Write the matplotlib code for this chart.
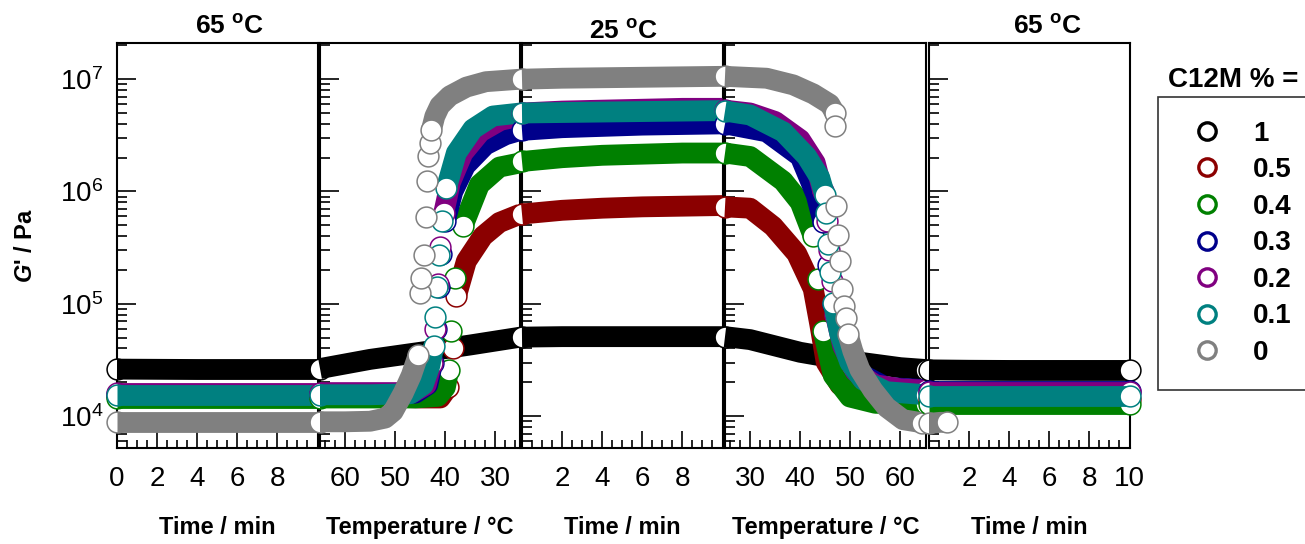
import numpy as np
import matplotlib
matplotlib.use('Agg')
import matplotlib.pyplot as plt
from matplotlib.lines import Line2D
from matplotlib.ticker import MultipleLocator, LogLocator, NullFormatter

plt.rcParams['font.family'] = ['Liberation Sans', 'DejaVu Sans']
plt.rcParams['mathtext.fontset'] = 'custom'
plt.rcParams['mathtext.rm'] = 'Liberation Sans'
plt.rcParams['mathtext.bf'] = 'Liberation Sans:bold'
plt.rcParams['mathtext.it'] = 'Liberation Sans:italic:bold'

# series: C12M content in %
labels = ['1', '0.5', '0.4', '0.3', '0.2', '0.1', '0']
colors = ['#000000', '#8b0000', '#008000', '#00008b', '#800080', '#008080', '#808080']

# 1) hold 10 min at 65 C
hold1_t = [0, 2, 4, 6, 8, 10]
hold1 = {
    '1':   [2.62e4, 2.61e4, 2.6e4, 2.6e4, 2.6e4, 2.6e4],
    '0.5': [1.5e4, 1.5e4, 1.5e4, 1.5e4, 1.5e4, 1.5e4],
    '0.4': [1.45e4, 1.45e4, 1.45e4, 1.45e4, 1.45e4, 1.45e4],
    '0.3': [1.58e4, 1.58e4, 1.58e4, 1.58e4, 1.58e4, 1.58e4],
    '0.2': [1.62e4, 1.62e4, 1.62e4, 1.62e4, 1.62e4, 1.62e4],
    '0.1': [1.55e4, 1.55e4, 1.55e4, 1.55e4, 1.55e4, 1.55e4],
    '0':   [8.9e3, 8.9e3, 8.9e3, 8.9e3, 8.9e3, 8.9e3],
}

# 2) cooling 65 -> 25 C  (temperature, G')
cool = {
    '1':   ([65, 55, 45, 35, 25],
            [2.65e4, 3.2e4, 3.7e4, 4.3e4, 5.05e4]),
    '0.5': ([65, 55, 45, 41, 39.5, 38.5, 37.8, 35.8, 32.5, 29.2, 25],
            [1.5e4, 1.5e4, 1.45e4, 1.45e4, 1.8e4, 4.0e4, 1.17e5, 2.4e5, 4.0e5, 5.3e5, 6.3e5]),
    '0.4': ([65, 55, 46, 41.5, 40, 39.3, 38.8, 38.1, 36.5, 33.2, 29.2, 25],
            [1.45e4, 1.45e4, 1.45e4, 1.5e4, 1.8e4, 2.6e4, 5.7e4, 1.7e5, 4.9e5, 1.15e6, 1.65e6, 1.8e6]),
    '0.3': ([65, 55, 46, 43.5, 42.5, 41.8, 41.3, 40.8, 40, 38.5, 36, 32, 28, 25],
            [1.58e4, 1.58e4, 1.6e4, 1.9e4, 3.0e4, 6e4, 1.4e5, 2.8e5, 5.5e5, 1.0e6, 1.7e6, 2.6e6, 3.2e6, 3.5e6]),
    '0.2': ([65, 55, 46.5, 43.8, 42.7, 42.0, 41.5, 41.0, 40.3, 39.0, 36.5, 33, 29, 25],
            [1.62e4, 1.62e4, 1.62e4, 1.9e4, 3.0e4, 6e4, 1.5e5, 3.2e5, 6.5e5, 1.2e6, 2.2e6, 3.4e6, 4.3e6, 4.7e6]),
    '0.1': ([65, 55, 47, 44.4, 43.1, 42.3, 42.0, 41.7, 41.3, 40.7, 39.8, 37.8, 34.5, 30.5, 25],
            [1.55e4, 1.55e4, 1.58e4, 1.9e4, 2.8e4, 4.2e4, 7.6e4, 1.4e5, 2.7e5, 5.5e5, 1.07e6, 2.2e6, 3.6e6, 4.7e6, 5.0e6]),
    '0':   ([65, 60, 55, 52, 50.4, 48.4, 46.8, 45.4, 45.1, 44.8, 44.3, 43.9, 43.6, 43.4, 43.1,
             42.8, 42.1, 41.1, 39.1, 35.8, 31.9, 25],
            [8.9e3, 8.9e3, 9.0e3, 9.6e3, 1.1e4, 1.6e4, 2.3e4, 3.5e4, 1.26e5, 1.68e5, 2.7e5, 5.9e5,
             1.24e6, 2.05e6, 2.7e6, 3.5e6, 4.66e6, 5.8e6, 7.1e6, 8.5e6, 9.5e6, 1.0e7]),
}

# 3) hold 10 min at 25 C
hold2_t = [0, 2, 4, 6, 8, 10]
hold2 = {
    '1':   [5.05e4, 5.1e4, 5.1e4, 5.1e4, 5.1e4, 5.1e4],
    '0.5': [6.3e5, 6.8e5, 7.1e5, 7.3e5, 7.4e5, 7.5e5],
    '0.4': [1.85e6, 2.0e6, 2.1e6, 2.15e6, 2.2e6, 2.2e6],
    '0.3': [3.5e6, 3.7e6, 3.8e6, 3.9e6, 3.95e6, 4.0e6],
    '0.2': [5.0e6, 5.2e6, 5.3e6, 5.4e6, 5.5e6, 5.5e6],
    '0.1': [5.0e6, 5.05e6, 5.1e6, 5.15e6, 5.2e6, 5.25e6],
    '0':   [1.0e7, 1.02e7, 1.03e7, 1.04e7, 1.05e7, 1.06e7],
}

# 4) heating 25 -> 65 C
heat = {
    '1':   ([25, 30, 40, 50, 60, 65],
            [5.1e4, 4.8e4, 3.7e4, 3.1e4, 2.7e4, 2.6e4]),
    '0.5': ([25, 30, 34.6, 39.3, 42.6, 43.9, 45.2, 47.9, 51.9, 54.5, 65],
            [7.3e5, 7.1e5, 4.9e5, 2.8e5, 1.36e5, 6.6e4, 3.0e4, 1.9e4, 1.46e4, 1.4e4, 1.4e4]),
    '0.4': ([25, 30, 36.6, 40, 42.6, 43.6, 44.6, 46.6, 49.9, 55, 65],
            [2.2e6, 2.05e6, 1.24e6, 8e5, 4e5, 1.67e5, 5.7e4, 2.3e4, 1.48e4, 1.3e4, 1.28e4]),
    '0.3': ([25, 33.3, 40, 43.2, 44.6, 45.6, 46.6, 49.2, 51.9, 57.2, 65],
            [4.0e6, 3.4e6, 2.05e6, 9.3e5, 5.3e5, 2.2e5, 1.0e5, 4.0e4, 2.4e4, 1.8e4, 1.72e4]),
    '0.2': ([25, 30, 35, 40, 43, 44.5, 45.3, 45.8, 46.3, 47, 48.5, 51, 55, 60, 65],
            [5.3e6, 5.0e6, 4.2e6, 2.9e6, 1.8e6, 1.0e6, 5.5e5, 3.0e5, 1.6e5, 8e4, 4.2e4, 2.5e4, 1.9e4, 1.75e4, 1.7e4]),
    '0.1': ([25, 30, 36.6, 41.3, 43.9, 44.9, 45.2, 45.6, 45.9, 46.6, 47.9, 49.9, 52.5, 57.2, 65],
            [5.2e6, 4.8e6, 3.4e6, 2.05e6, 1.33e6, 9.3e5, 6.5e5, 3.4e5, 1.9e5, 1.02e5, 5.4e4, 3.0e4, 2.1e4, 1.65e4, 1.55e4]),
    '0':   ([25, 33.3, 38.6, 42.6, 45.9, 46.9, 47.0, 47.2, 47.5, 47.9, 48.4, 48.7, 49.1, 49.5,
             50.5, 51.9, 54.5, 57.2, 60.5, 64.4],
            [1.06e7, 1.02e7, 8.9e6, 7.4e6, 6.0e6, 5.0e6, 3.8e6, 7.4e5, 4.1e5, 2.4e5, 1.36e5, 9.5e4,
             7.4e4, 5.4e4, 3.8e4, 2.6e4, 1.7e4, 1.2e4, 9.3e3, 8.7e3]),
}

# 5) hold 10 min at 65 C
hold3_t = [0, 2, 4, 6, 8, 10]
hold3 = {
    '1':   [2.58e4, 2.56e4, 2.55e4, 2.55e4, 2.55e4, 2.55e4],
    '0.5': [1.42e4, 1.42e4, 1.42e4, 1.42e4, 1.42e4, 1.42e4],
    '0.4': [1.28e4, 1.28e4, 1.28e4, 1.28e4, 1.28e4, 1.28e4],
    '0.3': [1.68e4, 1.68e4, 1.68e4, 1.68e4, 1.68e4, 1.68e4],
    '0.2': [1.65e4, 1.65e4, 1.65e4, 1.65e4, 1.65e4, 1.65e4],
    '0.1': [1.52e4, 1.52e4, 1.52e4, 1.52e4, 1.52e4, 1.52e4],
}
hold3_t_gray = [0, 0.25, 0.55, 0.9]
hold3_gray = [8.7e3, 8.7e3, 8.8e3, 8.8e3]

titles = ['65 $^{\\mathbf{o}}$C', None, '25 $^{\\mathbf{o}}$C', None, '65 $^{\\mathbf{o}}$C']
xlabels = ['Time / min', 'Temperature / °C', 'Time / min', 'Temperature / °C', 'Time / min']
xlims = [(0, 10), (65, 25), (0, 10), (25, 65), (0, 10)]
xticks = [[0, 2, 4, 6, 8], [60, 50, 40, 30], [2, 4, 6, 8], [30, 40, 50, 60], [2, 4, 6, 8, 10]]
minor_step = [0.5, 2, 0.5, 2, 0.5]

W, H = 1305, 544
fig = plt.figure(figsize=(W / 100, H / 100), dpi=100)
lefts = [117, 320, 522, 725, 929]
top_px, bot_px = 43, 448
axes = []
for i, lx in enumerate(lefts):
    ax = fig.add_axes([lx / W, 1 - bot_px / H, 200.5 / W, (bot_px - top_px) / H])
    ax.set_yscale('log')
    ax.set_ylim(5.2e3, 2.1e7)
    ax.set_xlim(*xlims[i])
    ax.set_xticks(xticks[i])
    ax.xaxis.set_minor_locator(MultipleLocator(minor_step[i]))
    ax.yaxis.set_major_locator(LogLocator(base=10, numticks=10))
    ax.yaxis.set_minor_locator(LogLocator(base=10, subs=np.arange(2, 10), numticks=20))
    ax.yaxis.set_minor_formatter(NullFormatter())
    ax.tick_params(axis='both', which='both', direction='in', top=False, right=False)
    ax.tick_params(axis='x', which='major', length=12, width=1.2, labelsize=20, pad=13)
    ax.tick_params(axis='x', which='minor', length=6, width=1.2)
    ax.tick_params(axis='y', which='major', length=14, width=1.2, labelsize=20, pad=10)
    ax.tick_params(axis='y', which='minor', length=7, width=1.2)
    if i > 0:
        ax.tick_params(axis='y', which='both', labelleft=False)
    for sp in ax.spines.values():
        sp.set_linewidth(1.5)
    ax.set_xlabel(xlabels[i], fontsize=17, fontweight='bold', labelpad=17)
    axes.append(ax)

axes[0].set_ylabel("$\\mathit{G}$' / Pa", fontsize=17, fontweight='bold', labelpad=16)

title_pos = [(230, 27), None, (624, 32), None, (1048, 27)]
for i, t in enumerate(titles):
    if t:
        fig.text(title_pos[i][0] / W, 1 - title_pos[i][1] / H, t, ha='center', va='center',
                 fontsize=19, fontweight='bold')

MS = 15
LW = 15
MEW = 1.1


def draw(ax, x, g, color, z, last_on_top):
    x = np.asarray(x, float)
    g = np.asarray(g, float)
    pts = ax.transData.transform(np.column_stack([x, g]))
    dx = np.abs(np.diff(pts[:, 0]))
    dy = np.abs(np.diff(pts[:, 1]))
    # where G' jumps fast the single measurement circles stand apart
    sparse = dy > 6 * np.maximum(dx, 0.5)
    runs = []
    cur = [0]
    for k in range(len(sparse)):
        if sparse[k]:
            runs.append(cur)
            cur = [k + 1]
        else:
            cur.append(k + 1)
    runs.append(cur)
    for r in runs:
        if len(r) > 1:
            ax.plot(x[r], g[r], color=color, lw=LW, solid_capstyle='butt',
                    solid_joinstyle='round', clip_on=False, zorder=z)
    # first point: open circle partly hidden by the band
    ax.plot(x[:1], g[:1], 'o', ms=MS, mfc='white', mec=color, mew=MEW,
            clip_on=False, zorder=z - 0.01)
    mark = np.zeros(len(x), bool)
    mark[:-1] |= sparse
    mark[1:] |= sparse
    if last_on_top:
        mark[-1] = True
    if mark.any():
        ax.plot(x[mark], g[mark], 'o', ms=MS, mfc='white', mec=color, mew=MEW,
                ls='none', clip_on=False, zorder=z + 0.05)


for j, (lab, col) in enumerate(zip(labels, colors)):
    z = 3 + j * 0.2
    draw(axes[0], hold1_t, hold1[lab], col, z, False)
    draw(axes[1], cool[lab][0], cool[lab][1], col, z, False)
    draw(axes[2], hold2_t, hold2[lab], col, z, False)
    draw(axes[3], heat[lab][0], heat[lab][1], col, z, True)
    if lab == '0':
        draw(axes[4], hold3_t_gray, hold3_gray, col, z, True)
    else:
        draw(axes[4], hold3_t, hold3[lab], col, z, True)

handles = [Line2D([], [], marker='o', ls='none', ms=12.5, mfc='white', mec=c, mew=2.4)
           for c in colors]
leg = fig.legend(handles, labels, loc='upper left', bbox_to_anchor=(1158 / W, 1 - 97 / H),
                 borderaxespad=0, frameon=True, fancybox=False, edgecolor='black',
                 prop={'size': 20, 'weight': 'bold'}, borderpad=0.85, labelspacing=0.38,
                 handlelength=1.83, handletextpad=0.74)
leg.get_frame().set_linewidth(1.2)
fig.text(1168 / W, 1 - 80 / H, 'C12M % =', ha='left', va='center', fontsize=20,
         fontweight='bold')

fig.savefig('out.png', dpi=100)
